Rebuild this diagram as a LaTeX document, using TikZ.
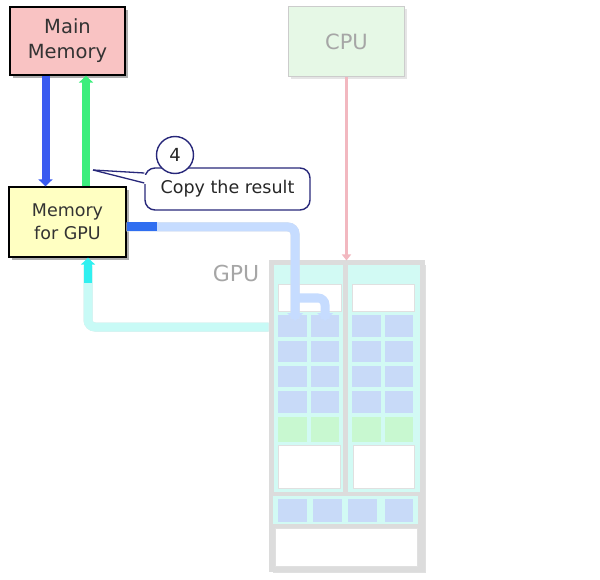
\documentclass[tikz,border=0pt]{standalone}
\usepackage{fontspec}
\setmainfont{DejaVu Sans}
\usetikzlibrary{arrows.meta,calc,shadows}
\definecolor{mmpink}{HTML}{F9C3C3}
\definecolor{mgyel}{HTML}{FFFFC2}
\definecolor{cpugr}{HTML}{E6F8E6}
\definecolor{navy}{HTML}{28287A}
\definecolor{blarr}{HTML}{3A5BF0}
\definecolor{grarr}{HTML}{3CEE7C}
\definecolor{ltblue}{HTML}{C6DCFF}
\definecolor{dkblue}{HTML}{2F6EF0}
\definecolor{ltcyan}{HTML}{C8FAF6}
\definecolor{brcyan}{HTML}{30F0F0}
\definecolor{pinkarr}{HTML}{F2B8C0}
\definecolor{cellblue}{HTML}{C8DAF8}
\definecolor{cellgreen}{HTML}{C8F8D0}
\definecolor{smcyan}{HTML}{D2FAF4}
\definecolor{gpugray}{HTML}{DCDCDC}
\begin{document}
\begin{tikzpicture}[x=1pt,y=-1pt,
  membox/.style={draw=black, line width=1.3pt, align=center, inner sep=0pt, text=black!80,
    drop shadow={shadow xshift=3pt, shadow yshift=-3pt, fill=black!45, opacity=.7}},
  fatarrow/.style={line width=8pt, -{Triangle[width=14pt,length=7pt]}},
  widearrow/.style={line width=9pt, rounded corners=7pt},
  cell/.style={fill=cellblue},
  gcell/.style={fill=cellgreen},
  wbox/.style={fill=white, draw=black!12, line width=0.8pt},
  lbl/.style={text=black!35}
]
\useasboundingbox (0,0) rectangle (600,580);

% ---------- boxes ----------
\node[membox, fill=mmpink, minimum width=115pt, minimum height=68pt,
      font=\fontsize{19.5}{25}\selectfont] (mm) at (67.5,41) {Main\\Memory};
\node[membox, fill=mgyel, minimum width=117pt, minimum height=70pt,
      font=\fontsize{17.5}{23}\selectfont] (mg) at (67.5,222) {Memory\\for GPU};
\node[draw=black!20, line width=1pt, fill=cpugr, minimum width=116pt, minimum height=70pt,
      inner sep=0pt, lbl, font=\fontsize{21}{24}\selectfont,
      drop shadow={shadow xshift=2pt, shadow yshift=-2pt, fill=black!20}] (cpu) at (346.5,42) {CPU};

% ---------- GPU ----------
\fill[black!12] (273,265) rectangle (426,573);
\node[draw=gpugray, line width=3pt, fill=gpugray, minimum width=153pt, minimum height=308pt,
      inner sep=0pt] (gpu) at (346.5,416) {};
\node[lbl, font=\fontsize{22}{25}\selectfont, anchor=center] (gpulbl) at (236,273) {GPU};

% streaming multiprocessors
\foreach \xa/\xb in {274/343, 348/420}{
  \fill[smcyan] (\xa,265) rectangle (\xb,492);
}
\draw[wbox] (278,284) rectangle (341,311);
\draw[wbox] (352,284) rectangle (414,311);
\foreach \ya/\yb in {315/337, 341/362, 366/387, 391/413}{
  \foreach \xa/\xb in {278/307, 311/339, 352/381, 385/413}{
    \fill[cell] (\xa,\ya) rectangle (\xb,\yb);
  }
}
\foreach \xa/\xb in {278/307, 311/339, 352/381, 385/413}{
  \fill[gcell] (\xa,417) rectangle (\xb,442);
}
\draw[wbox] (278,445) rectangle (340,488);
\draw[wbox] (353,445) rectangle (414,488);
% bottom band
\fill[smcyan] (273,496) rectangle (418,524);
\foreach \xa/\xb in {278/307, 313/342, 348/377, 385/413}{
  \fill[cell] (\xa,499) rectangle (\xb,522);
}
\draw[wbox] (275,528) rectangle (417,566);

% ---------- connectors ----------
\draw[fatarrow, blarr] ($(mm.south)+(-22,0)$) -- ($(mg.north)+(-22,0)$);
\draw[fatarrow, grarr] ($(mg.north)+(18.5,0)$) -- ($(mm.south)+(18.5,0)$);

\draw[pinkarr, line width=2.5pt, -{Triangle[width=9pt,length=6pt]}] (cpu.south) -- (gpu.north);

% light blue copy arrow (memory for GPU -> cores)
\coordinate (bcorner) at (295,227);
\coordinate (bsplit) at (295,298);
\coordinate (bend1) at (295,319);
\coordinate (bend2) at (325,319);
\draw[widearrow, black!12, shift={(2,2)}] ($(mg.east)+(0,5)$) -- (bcorner) -- (bend1);
\draw[widearrow, ltblue] ($(mg.east)+(0,5)$) -- (bcorner) -- (bend1);
\draw[widearrow, ltblue] (bsplit) -- (325,298) -- (bend2);
\fill[ltblue] (287,313) -- (303,313) -- (295,321) -- cycle;
\fill[ltblue] (317,313) -- (333,313) -- (325,321) -- cycle;
\draw[line width=9pt, dkblue] ($(mg.east)+(0,5)$) -- ($(mg.east)+(30,5)$);

% light cyan result arrow (cores -> memory for GPU)
\coordinate (ccorner) at (88,327);
\draw[widearrow, black!12, shift={(2,2)}] (gpu.west |- ccorner) -- (ccorner) -- ($(mg.south)+(20.5,8)$);
\draw[widearrow, ltcyan] (gpu.west |- ccorner) -- (ccorner) -- ($(mg.south)+(20.5,8)$);
\draw[line width=8pt, brcyan, -{Triangle[width=14pt,length=7pt]}] ($(mg.south)+(20.5,25)$) -- ($(mg.south)+(20.5,0)$);

% ---------- callout ----------
\node[draw=navy, line width=1.4pt, rounded corners=10pt, fill=white, minimum width=165pt,
      minimum height=42pt, inner sep=0pt, font=\fontsize{17.5}{20}\selectfont, text=black!85] (cr) at (227.5,189) {Copy the result};
\coordinate (ptr) at (93,170);
\fill[white] ($(cr.west)+(-1,-14)$) -- ($(cr.west)+(3,-14)$) -- ($(cr.west)+(3,-5)$) -- ($(cr.west)+(-1,-5)$) -- cycle;
\draw[navy, line width=1.3pt] (ptr) -- ($(cr.west)+(0,-16)$);
\draw[navy, line width=1.3pt] (ptr) -- ($(cr.west)+(0,-6)$);
\node[circle, draw=navy, line width=1.4pt, fill=white, minimum size=37pt, inner sep=0pt,
      font=\fontsize{18}{20}\selectfont, text=black!85] (c4) at (175,155) {4};
\end{tikzpicture}
\end{document}
